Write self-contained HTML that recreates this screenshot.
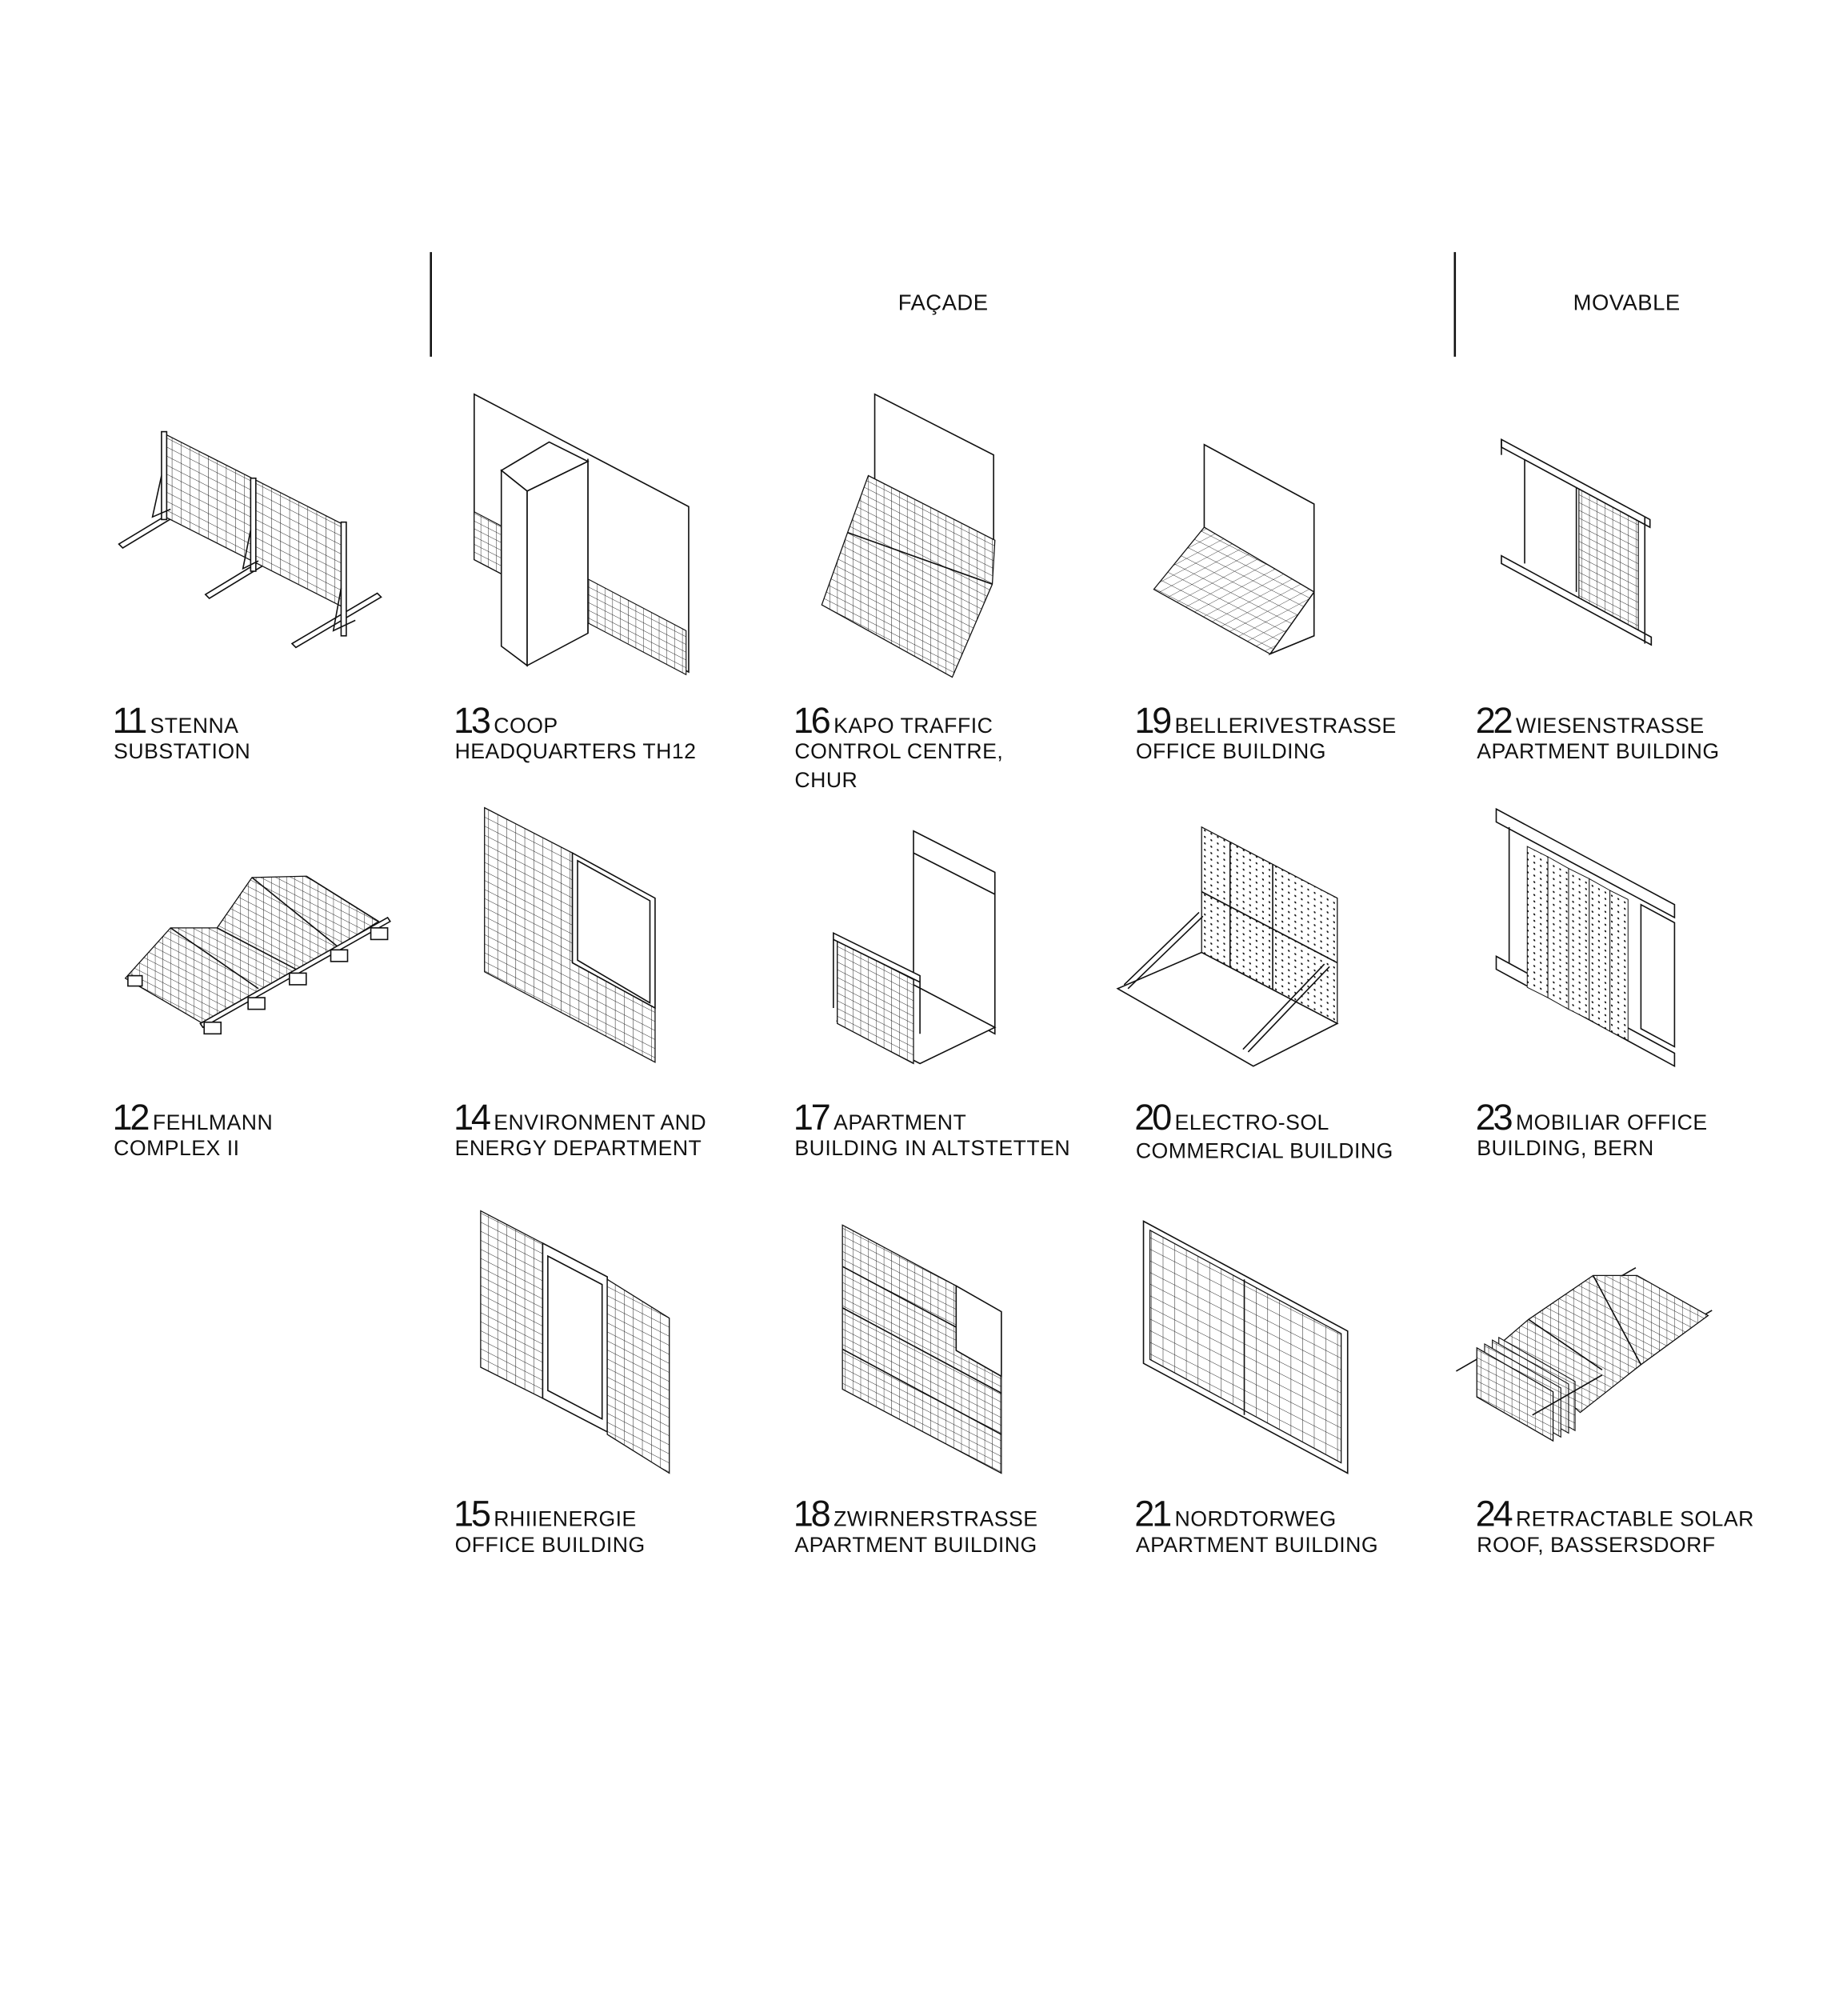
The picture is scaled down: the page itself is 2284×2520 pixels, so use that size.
<!DOCTYPE html>
<html><head><meta charset="utf-8"><style>
html,body{margin:0;padding:0;background:#fff}
svg{display:block}
text{font-family:"Liberation Sans",sans-serif;fill:#111}
.n{font-size:28px;letter-spacing:-2px}
.t{font-size:16.5px;letter-spacing:0.3px}
.h{font-size:17px;letter-spacing:0.3px}
.o{fill:#fff;stroke:#111;stroke-width:1}
.l{fill:none;stroke:#111;stroke-width:1}
</style></head><body>
<svg width="2284" height="2520" viewBox="0 0 1414 1560" xmlns="http://www.w3.org/2000/svg">
<defs>
<pattern id="gR" width="7" height="7" patternUnits="userSpaceOnUse" patternTransform="skewY(27)">
<rect width="7" height="7" fill="#fff"/><path d="M0 0V7M0 0H7" stroke="#111" stroke-width="0.6"/></pattern>
<pattern id="gR2" width="6" height="6" patternUnits="userSpaceOnUse" patternTransform="skewY(27)">
<rect width="6" height="6" fill="#fff"/><path d="M0 0V6M0 0H6" stroke="#111" stroke-width="0.55"/></pattern>
<pattern id="gF" width="8" height="8" patternUnits="userSpaceOnUse" patternTransform="rotate(27) skewX(-35)">
<rect width="8" height="8" fill="#fff"/><path d="M0 0V8M0 0H8" stroke="#111" stroke-width="0.55"/></pattern>
<pattern id="gB" width="9" height="9" patternUnits="userSpaceOnUse" patternTransform="skewY(27)">
<rect width="9" height="9" fill="#fff"/><path d="M0 0V9M0 0H9" stroke="#111" stroke-width="0.6"/></pattern>
<pattern id="dot" width="5" height="5" patternUnits="userSpaceOnUse" patternTransform="skewY(27)">
<rect width="5" height="5" fill="#fff"/><circle cx="2.5" cy="2.5" r="0.7" fill="#111"/></pattern>
</defs>

<!-- header -->
<line x1="333.5" y1="195" x2="333.5" y2="276" stroke="#111" stroke-width="1.6"/>
<line x1="1126" y1="195" x2="1126" y2="276" stroke="#111" stroke-width="1.6"/>
<text class="h" x="730" y="240" text-anchor="middle">FAÇADE</text>
<text class="h" x="1259" y="240" text-anchor="middle">MOVABLE</text>

<!-- 11 -->
<g>
<polygon points="92,421 130,398 133,401 95,424" class="o"/>
<polygon points="159,460 205,432 208,435 162,463" class="o"/>
<polygon points="226,498 292,459 295,462 229,501" class="o"/>
<polygon points="128,336 266,406 266,470 128,400" fill="url(#gR)" stroke="#111" stroke-width="0.8"/>
<rect x="125" y="334" width="4" height="68" class="o"/>
<rect x="194" y="370" width="4" height="72" class="o"/>
<rect x="264" y="404" width="4" height="88" class="o"/>
<path d="M125 368 L118 400 L132 394 M194 410 L188 440 L200 434 M264 455 L258 488 L275 480" class="l" stroke-width="0.7"/>
</g>

<!-- 13 -->
<g>
<polygon points="367,305 533,392 533,520 367,433" class="o"/>
<polygon points="367,396 390,408 390,445 367,433" fill="url(#gR2)" stroke="#111" stroke-width="0.7"/>
<polygon points="455,448 531,488 531,522 455,482" fill="url(#gR2)" stroke="#111" stroke-width="0.7"/>
<line x1="455" y1="355" x2="455" y2="490" class="l"/>
<polygon points="388,364 425,342 455,357 408,380" class="o"/>
<polygon points="388,364 408,380 408,515 388,500" class="o"/>
<polygon points="408,380 455,357 455,490 408,515" class="o"/>
</g>

<!-- 16 -->
<g>
<polygon points="677,305 769,352 769,420 677,372" class="o"/>
<polygon points="672,368 770,418 768,452 737,524 636,468 656,412" fill="url(#gR2)" stroke="#111" stroke-width="0.8"/>
<path d="M656 412 L768 452" class="l" stroke-width="0.6"/>
</g>

<!-- 19 -->
<g>
<polygon points="932,344 1017,390 1017,470 932,408" class="o"/>
<polygon points="1017,458 1017,492 983,506" class="o"/>
<polygon points="932,408 1017,458 983,506 893,456" fill="url(#gF)" stroke="#111" stroke-width="0.8"/>
</g>

<!-- 22 -->
<g>
<polygon points="1222,376 1268,400 1268,492 1222,467" fill="url(#gR2)" stroke="#111" stroke-width="0.7"/>
<line x1="1180" y1="352" x2="1180" y2="436" class="l"/>
<line x1="1220" y1="373" x2="1220" y2="458" class="l"/>
<polygon points="1162,340 1277,402 1277,408 1162,346" class="o"/>
<polygon points="1162,430 1278,493 1278,499 1162,436" class="o"/>
<line x1="1162" y1="340" x2="1162" y2="352" class="l"/>
<line x1="1273" y1="400" x2="1273" y2="498" class="l"/>
</g>

<!-- 12 -->
<g>
<polygon points="97,757 132,718 168,718 195,679 237,678 293,713 231,751 157,792" fill="url(#gR2)" stroke="#111" stroke-width="0.8"/>
<path d="M132 718 L200 765 M168 718 L231 751 M195 679 L262 733 M237 678 L293 713" class="l" stroke-width="0.6"/>
<path d="M155 792 L300 710 L302 713 L157 795 Z" class="o"/>
<g class="o">
<rect x="158" y="791" width="13" height="9"/>
<rect x="192" y="772" width="13" height="9"/>
<rect x="224" y="753" width="13" height="9"/>
<rect x="256" y="735" width="13" height="9"/>
<rect x="287" y="718" width="13" height="9"/>
<rect x="99" y="755" width="11" height="8"/>
</g>
</g>

<!-- 14 -->
<g>
<polygon points="375,625 443,660 443,745 507,780 507,822 375,752" fill="url(#gR)" stroke="#111" stroke-width="0.8"/>
<polygon points="443,660 507,695 507,780 443,745" class="o"/>
<polygon points="447,666 503,697 503,776 447,743" class="l" stroke-width="0.6"/>
</g>

<!-- 17 -->
<g>
<polygon points="707,643 770,675 770,800 707,766" class="o"/>
<line x1="707" y1="660" x2="770" y2="692" class="l" stroke-width="0.6"/>
<polygon points="707,762 770,795 712,823 648,790" class="o"/>
<polygon points="648,728 707,758 707,823 648,792" fill="url(#gR2)" stroke="#111" stroke-width="0.8"/>
<path d="M645 722 L712 755 L712 760 L645 727 Z M645 722 V780 M712 755 V800" class="o"/>
</g>

<!-- 20 -->
<g>
<polygon points="930,640 1035,695 1035,792 930,737" fill="url(#dot)" stroke="#111" stroke-width="0.8"/>
<path d="M952 652 V748 M985 669 V766 M930 690 L1035 745" class="l" stroke-width="0.5"/>
<polygon points="930,737 1035,792 970,825 865,765" class="o"/>
<path d="M870 762 L928 706 M873 765 L931 709 M962 812 L1025 746 M966 814 L1029 748" class="l" stroke-width="0.8"/>
</g>

<!-- 23 -->
<g>
<polygon points="1158,626 1296,700 1296,710 1158,636" class="o"/>
<polygon points="1158,740 1296,815 1296,825 1158,750" class="o"/>
<line x1="1168" y1="640" x2="1168" y2="745" class="l"/>
<polygon points="1270,700 1296,714 1296,810 1270,796" class="l"/>
<polygon points="1182,655 1198,663 1198,772 1182,764" fill="url(#dot)" stroke="#111" stroke-width="0.6"/>
<polygon points="1198,663 1214,672 1214,781 1198,772" fill="url(#dot)" stroke="#111" stroke-width="0.6"/>
<polygon points="1214,672 1230,680 1230,789 1214,781" fill="url(#dot)" stroke="#111" stroke-width="0.6"/>
<polygon points="1230,680 1246,689 1246,798 1230,789" fill="url(#dot)" stroke="#111" stroke-width="0.6"/>
<polygon points="1246,689 1260,696 1260,805 1246,798" fill="url(#dot)" stroke="#111" stroke-width="0.6"/>
</g>

<!-- 15 -->
<g>
<polygon points="372,937 420,962 420,1082 372,1058" fill="url(#gR)" stroke="#111" stroke-width="0.8"/>
<polygon points="420,962 470,988 470,1108 420,1082" class="o"/>
<polygon points="424,972 466,994 466,1098 424,1076" class="l" stroke-width="0.6"/>
<polygon points="470,990 518,1020 518,1140 470,1110" fill="url(#gR)" stroke="#111" stroke-width="0.8"/>
</g>

<!-- 18 -->
<g>
<polygon points="652,948 740,995 740,1045 775,1065 775,1140 652,1075" fill="url(#gR2)" stroke="#111" stroke-width="0.8"/>
<path d="M652 980 L740 1027 M652 1012 L775 1078 M652 1044 L775 1110" class="l" stroke-width="0.9"/>
<polygon points="740,995 775,1015 775,1065 740,1045" class="o"/>
</g>

<!-- 21 -->
<g>
<polygon points="885,945 1043,1030 1043,1140 885,1055" class="o"/>
<polygon points="890,952 1038,1032 1038,1132 890,1052" fill="url(#gB)" stroke="#111" stroke-width="0.8"/>
<line x1="963" y1="990" x2="963" y2="1095" class="l" stroke-width="1.4"/>
</g>

<!-- 24 -->
<g>
<path d="M1127 1061 L1266 981 M1186 1095 L1325 1014" class="l" stroke-width="1.6"/>
<polygon points="1162,1039 1183,1021 1233,987 1267,987 1322,1018 1270,1056 1223,1093" fill="url(#gR2)" stroke="#111" stroke-width="0.8"/>
<path d="M1183 1021 L1240 1060 M1233 987 L1270 1056" class="l" stroke-width="0.6"/>
<polygon points="1160,1035 1219,1069 1219,1107 1160,1073" fill="url(#gR2)" stroke="#111" stroke-width="0.7"/>
<polygon points="1155,1037 1214,1071 1214,1109 1155,1075" fill="url(#gR2)" stroke="#111" stroke-width="0.7"/>
<polygon points="1149,1040 1208,1074 1208,1112 1149,1078" fill="url(#gR2)" stroke="#111" stroke-width="0.7"/>
<polygon points="1143,1043 1202,1077 1202,1115 1143,1081" fill="url(#gR2)" stroke="#111" stroke-width="0.8"/>
<path d="M1186 1095 L1240 1064" class="l" stroke-width="1.6"/>
</g>

<!-- labels -->
<g>
<text x="87" y="567"><tspan class="n">11</tspan><tspan class="t" dx="4">STENNA</tspan></text>
<text class="t" x="88" y="587">SUBSTATION</text>
<text x="351" y="567"><tspan class="n">13</tspan><tspan class="t" dx="4">COOP</tspan></text>
<text class="t" x="352" y="587">HEADQUARTERS TH12</text>
<text x="614" y="567"><tspan class="n">16</tspan><tspan class="t" dx="4">KAPO TRAFFIC</tspan></text>
<text class="t" x="615" y="587">CONTROL CENTRE,</text>
<text class="t" x="615" y="609">CHUR</text>
<text x="878" y="567"><tspan class="n">19</tspan><tspan class="t" dx="4">BELLERIVESTRASSE</tspan></text>
<text class="t" x="879" y="587">OFFICE BUILDING</text>
<text x="1142" y="567"><tspan class="n">22</tspan><tspan class="t" dx="4">WIESENSTRASSE</tspan></text>
<text class="t" x="1143" y="587">APARTMENT BUILDING</text>

<text x="87" y="874"><tspan class="n">12</tspan><tspan class="t" dx="4">FEHLMANN</tspan></text>
<text class="t" x="88" y="894">COMPLEX II</text>
<text x="351" y="874"><tspan class="n">14</tspan><tspan class="t" dx="4">ENVIRONMENT AND</tspan></text>
<text class="t" x="352" y="894">ENERGY DEPARTMENT</text>
<text x="614" y="874"><tspan class="n">17</tspan><tspan class="t" dx="4">APARTMENT</tspan></text>
<text class="t" x="615" y="894">BUILDING IN ALTSTETTEN</text>
<text x="878" y="874"><tspan class="n">20</tspan><tspan class="t" dx="4">ELECTRO-SOL</tspan></text>
<text class="t" x="879" y="896">COMMERCIAL BUILDING</text>
<text x="1142" y="874"><tspan class="n">23</tspan><tspan class="t" dx="4">MOBILIAR OFFICE</tspan></text>
<text class="t" x="1143" y="894">BUILDING, BERN</text>

<text x="351" y="1181"><tspan class="n">15</tspan><tspan class="t" dx="4">RHIIENERGIE</tspan></text>
<text class="t" x="352" y="1201">OFFICE BUILDING</text>
<text x="614" y="1181"><tspan class="n">18</tspan><tspan class="t" dx="4">ZWIRNERSTRASSE</tspan></text>
<text class="t" x="615" y="1201">APARTMENT BUILDING</text>
<text x="878" y="1181"><tspan class="n">21</tspan><tspan class="t" dx="4">NORDTORWEG</tspan></text>
<text class="t" x="879" y="1201">APARTMENT BUILDING</text>
<text x="1142" y="1181"><tspan class="n">24</tspan><tspan class="t" dx="4">RETRACTABLE SOLAR</tspan></text>
<text class="t" x="1143" y="1201">ROOF, BASSERSDORF</text>
</g>
</svg>
</body></html>
